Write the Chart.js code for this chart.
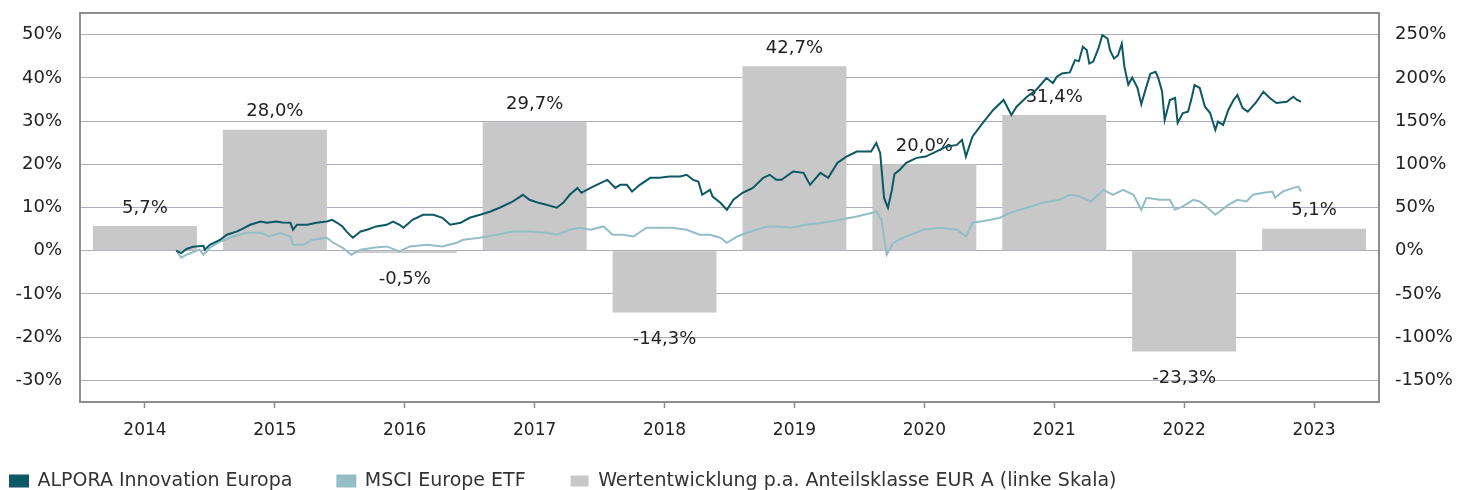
<!DOCTYPE html>
<html>
<head>
<meta charset="utf-8">
<script src="https://cdn.jsdelivr.net/npm/chart.js@4.4.0/dist/chart.umd.min.js"></script>
<style>
  html, body { margin: 0; padding: 0; background: #fff; overflow: hidden; }
</style>
</head>
<body>
<canvas id="chart" width="1458" height="512"></canvas>
<script>
// Jahre (Kategorien) und jährliche Wertentwicklung (linke Skala)
const years = ['2014', '2015', '2016', '2017', '2018', '2019', '2020', '2021', '2022', '2023'];
const annualReturns = [5.7, 28.0, -0.5, 29.7, -14.3, 42.7, 20.0, 31.4, -23.3, 5.1];

// Achsenbeschriftungen
const leftTicks = [-30, -20, -10, 0, 10, 20, 30, 40, 50];
const rightTicks = [-150, -100, -50, 0, 50, 100, 150, 200, 250];

// ALPORA Innovation Europa, kumuliert (rechte Skala), Zeitpunkt als Dezimaljahr
const alporaDates = [
  2014.74, 2014.78, 2014.82, 2014.87, 2014.95, 2014.96, 2015.00, 2015.08, 2015.13, 2015.21,
  2015.25, 2015.31, 2015.39, 2015.44, 2015.51, 2015.56, 2015.62, 2015.64, 2015.67, 2015.75,
  2015.82, 2015.90, 2015.94, 2015.98, 2016.02, 2016.05, 2016.10, 2016.16, 2016.21, 2016.28,
  2016.36, 2016.41, 2016.46, 2016.49, 2016.56, 2016.64, 2016.72, 2016.79, 2016.85, 2016.93,
  2017.00, 2017.08, 2017.16, 2017.23, 2017.33, 2017.41, 2017.46, 2017.53, 2017.59, 2017.67,
  2017.72, 2017.77, 2017.83, 2017.86, 2017.93, 2018.03, 2018.06, 2018.12, 2018.16, 2018.21,
  2018.25, 2018.31, 2018.39, 2018.46, 2018.54, 2018.62, 2018.67, 2018.72, 2018.76, 2018.79,
  2018.85, 2018.87, 2018.93, 2018.98, 2019.03, 2019.10, 2019.18, 2019.26, 2019.31, 2019.36,
  2019.40, 2019.49, 2019.57, 2019.62, 2019.70, 2019.76, 2019.83, 2019.90, 2019.98, 2020.06,
  2020.09, 2020.13, 2020.16, 2020.19, 2020.22, 2020.25, 2020.27, 2020.31, 2020.36, 2020.44,
  2020.51, 2020.59, 2020.67, 2020.75, 2020.79, 2020.82, 2020.87, 2020.95, 2021.03, 2021.11,
  2021.17, 2021.21, 2021.29, 2021.36, 2021.44, 2021.49, 2021.52, 2021.56, 2021.62, 2021.66,
  2021.69, 2021.72, 2021.75, 2021.77, 2021.80, 2021.84, 2021.87, 2021.91, 2021.93, 2021.96,
  2021.99, 2022.02, 2022.04, 2022.07, 2022.10, 2022.14, 2022.17, 2022.20, 2022.24, 2022.28,
  2022.30, 2022.33, 2022.35, 2022.39, 2022.43, 2022.45, 2022.49, 2022.53, 2022.56, 2022.58,
  2022.62, 2022.66, 2022.70, 2022.74, 2022.76, 2022.80, 2022.84, 2022.88, 2022.91, 2022.95,
  2022.99, 2023.05, 2023.11, 2023.16, 2023.21, 2023.29, 2023.34, 2023.37, 2023.40
];
const alporaValues = [
  0, -2.7, 2.0, 4.6, 5.8, 1.2, 6.9, 12.7, 18.5, 22.3,
  25.4, 30.0, 33.8, 32.3, 33.8, 32.7, 32.3, 24.2, 30.0, 30.0,
  32.3, 33.8, 35.8, 32.3, 28.1, 22.3, 15.0, 22.3, 24.2, 28.1,
  30.0, 33.8, 30.0, 26.6, 35.8, 41.6, 41.6, 38.1, 30.0, 32.3,
  38.1, 41.6, 45.4, 49.7, 56.9, 64.7, 58.9, 55.4, 53.1, 49.7,
  55.4, 64.7, 72.7, 67.0, 72.7, 80.0, 82.0, 72.7, 76.2, 76.2,
  68.5, 76.2, 84.3, 84.3, 85.8, 85.8, 87.8, 82.0, 80.0, 64.7,
  70.4, 62.7, 55.4, 47.3, 58.9, 67.0, 72.7, 84.3, 87.8, 82.0,
  82.0, 91.6, 90.1, 76.2, 90.1, 84.3, 101.6, 108.9, 114.7, 114.7,
  114.7, 124.7, 113.2, 61.0, 49.7, 70.4, 88.8, 93.5, 101.6, 107.4,
  108.9, 114.7, 120.4, 122.4, 128.2, 108.9, 132.0, 147.8, 162.8, 174.4,
  157.0, 166.6, 178.2, 185.9, 199.8, 194.0, 201.3, 205.0, 206.3, 220.5,
  219.3, 235.9, 232.1, 216.5, 218.8, 234.0, 249.4, 245.5, 231.6, 222.4,
  225.9, 239.6, 212.8, 192.1, 200.2, 188.7, 169.4, 185.2, 204.8, 207.0,
  200.2, 184.3, 151.3, 174.4, 176.7, 147.8, 159.3, 160.9, 178.2, 191.7,
  188.2, 166.6, 159.3, 139.7, 149.3, 145.5, 162.8, 174.4, 180.1, 165.1,
  160.9, 170.9, 183.9, 176.7, 170.9, 172.4, 178.2, 174.4, 172.4
];

// MSCI Europe ETF, kumuliert (rechte Skala)
const msciDates = [
  2014.75, 2014.78, 2014.82, 2014.92, 2014.95, 2015.00, 2015.08, 2015.18, 2015.28, 2015.39,
  2015.46, 2015.54, 2015.62, 2015.64, 2015.72, 2015.79, 2015.90, 2015.95, 2016.02, 2016.09,
  2016.16, 2016.26, 2016.36, 2016.46, 2016.54, 2016.67, 2016.79, 2016.90, 2016.95, 2017.08,
  2017.21, 2017.33, 2017.46, 2017.59, 2017.67, 2017.77, 2017.85, 2017.93, 2018.03, 2018.10,
  2018.18, 2018.26, 2018.36, 2018.46, 2018.56, 2018.67, 2018.77, 2018.85, 2018.93, 2018.98,
  2019.06, 2019.13, 2019.21, 2019.29, 2019.36, 2019.47, 2019.59, 2019.72, 2019.85, 2019.98,
  2020.10, 2020.13, 2020.17, 2020.21, 2020.26, 2020.36, 2020.49, 2020.62, 2020.75, 2020.82,
  2020.87, 2021.01, 2021.08, 2021.16, 2021.29, 2021.41, 2021.54, 2021.62, 2021.70, 2021.78,
  2021.88, 2021.95, 2022.03, 2022.11, 2022.17, 2022.21, 2022.31, 2022.39, 2022.43, 2022.49,
  2022.57, 2022.62, 2022.67, 2022.74, 2022.79, 2022.84, 2022.91, 2022.98, 2023.03, 2023.11,
  2023.18, 2023.20, 2023.26, 2023.34, 2023.38, 2023.40
];
const msciValues = [
  -2.3, -8.1, -4.6, 1.2, -4.6, 3.5, 10.7, 16.5, 20.8, 20.8,
  16.5, 20.8, 16.5, 6.9, 6.9, 12.7, 15.0, 9.2, 3.5, -4.6,
  1.2, 3.5, 5.0, -0.8, 5.0, 6.9, 5.0, 9.2, 12.7, 15.0,
  18.5, 22.3, 22.3, 20.8, 18.5, 24.2, 26.6, 24.2, 28.1, 18.5,
  18.5, 16.5, 26.6, 26.6, 26.6, 24.2, 18.5, 18.5, 15.0, 9.2,
  16.5, 20.8, 24.2, 28.1, 28.1, 26.6, 30.0, 32.3, 35.8, 39.6,
  43.9, 45.4, 35.8, -4.6, 9.2, 16.5, 24.2, 26.6, 24.2, 16.5,
  32.3, 35.8, 38.1, 43.9, 49.7, 55.4, 58.9, 64.7, 62.7, 56.9,
  70.4, 64.7, 70.4, 64.7, 47.3, 61.2, 58.9, 58.9, 47.3, 51.2,
  58.9, 56.9, 51.2, 41.6, 47.3, 53.1, 58.9, 56.9, 64.7, 67.0,
  68.5, 61.2, 68.5, 72.7, 74.2, 68.5
];

const FONT = '"DejaVu Sans", sans-serif';
const TEXT = '#222222';
const GRID = '#a9acba';
const FRAME = '#8e8e8e';

function toPoints(xs, ys) {
  return xs.map((x, i) => ({ x: x, y: ys[i] }));
}

function pct(v) {
  return v.toFixed(1).replace('.', ',') + '%';
}

// keine automatische Randreserve für Achsenbeschriftungen
function noPadding(scale) {
  scale.paddingTop = 0;
  scale.paddingBottom = 0;
  scale.paddingLeft = 0;
  scale.paddingRight = 0;
}

// Beschriftung der Balken (vor den Linien gezeichnet)
const barLabels = {
  id: 'barLabels',
  afterDatasetDraw(chart, args) {
    if (args.index !== 2) return;
    const ctx = chart.ctx;
    ctx.save();
    ctx.font = '18px ' + FONT;
    ctx.fillStyle = TEXT;
    ctx.textAlign = 'center';
    ctx.textBaseline = 'middle';
    args.meta.data.forEach((bar, i) => {
      const v = annualReturns[i];
      const y = v >= 0 ? bar.y - 18 : bar.y + 26.5;
      ctx.fillText(pct(v), bar.x, y);
    });
    ctx.restore();
  }
};

// Rahmen um die Zeichenfläche
const frame = {
  id: 'frame',
  afterDraw(chart) {
    const a = chart.chartArea;
    const ctx = chart.ctx;
    ctx.save();
    ctx.strokeStyle = FRAME;
    ctx.lineWidth = 2;
    ctx.strokeRect(a.left, a.top, a.right - a.left, a.bottom - a.top);
    ctx.restore();
  }
};

// Legende etwas näher an die Jahreszahlen rücken
const legendShift = {
  id: 'legendShift',
  afterLayout(chart) {
    chart.legend.top -= 11.5;
    chart.legend.bottom -= 11.5;
  }
};

new Chart(document.getElementById('chart'), {
  type: 'bar',
  data: {
    labels: years,
    datasets: [{
      type: 'line',
      label: 'ALPORA Innovation Europa',
      data: toPoints(alporaDates, alporaValues),
      xAxisID: 'xt',
      yAxisID: 'y2',
      borderColor: '#0d5865',
      backgroundColor: '#0d5865',
      borderWidth: 2,
      pointRadius: 0,
      tension: 0
    }, {
      type: 'line',
      label: 'MSCI Europe ETF',
      data: toPoints(msciDates, msciValues),
      xAxisID: 'xt',
      yAxisID: 'y2',
      borderColor: '#94bec6',
      backgroundColor: '#94bec6',
      borderWidth: 2,
      pointRadius: 0,
      tension: 0
    }, {
      label: 'Wertentwicklung p.a. Anteilsklasse EUR A (linke Skala)',
      data: annualReturns,
      xAxisID: 'x',
      yAxisID: 'y',
      backgroundColor: '#c8c8c8',
      borderWidth: 0,
      grouped: false,
      barPercentage: 1,
      categoryPercentage: 0.8
    }]
  },
  options: {
    responsive: false,
    animation: false,
    devicePixelRatio: 1,
    layout: { padding: { left: -35, right: 0, top: 13, bottom: 0 } },
    plugins: {
      tooltip: { enabled: false },
      legend: {
        position: 'bottom',
        align: 'start',
        labels: {
          boxWidth: 18,
          boxHeight: 11,
          padding: 45,
          color: '#333333',
          font: { family: FONT, size: 19 }
        }
      }
    },
    scales: {
      x: {
        type: 'category',
        position: 'bottom',
        grid: { display: true, drawOnChartArea: false, offset: false, color: FRAME, tickLength: 6, tickWidth: 1.5 },
        border: { display: true, color: FRAME, width: 2 },
        ticks: { color: TEXT, font: { family: FONT, size: 17 }, padding: 12 },
        afterFit(scale) { noPadding(scale); scale.height = 36; }
      },
      xt: {
        type: 'linear',
        display: false,
        offset: false,
        min: 2014,
        max: 2024
      },
      y: {
        position: 'left',
        min: -35,
        max: 55,
        afterBuildTicks(scale) { scale.ticks = leftTicks.map(v => ({ value: v })); },
        grid: { color: GRID, lineWidth: 1, drawTicks: false },
        border: { display: true, color: FRAME, width: 2 },
        ticks: {
          color: TEXT,
          padding: 18,
          font: { family: FONT, size: 18 },
          callback: v => v + '%'
        },
        afterFit(scale) { noPadding(scale); scale.width = 115; }
      },
      y2: {
        position: 'right',
        min: -175,
        max: 275,
        afterBuildTicks(scale) { scale.ticks = rightTicks.map(v => ({ value: v })); },
        grid: { display: false, drawTicks: false },
        border: { display: true, color: FRAME, width: 2 },
        ticks: {
          color: TEXT,
          padding: 16,
          font: { family: FONT, size: 18 },
          callback: v => v + '%'
        },
        afterFit(scale) { noPadding(scale); scale.width = 79; }
      }
    }
  },
  plugins: [barLabels, frame, legendShift]
});
</script>
</body>
</html>
